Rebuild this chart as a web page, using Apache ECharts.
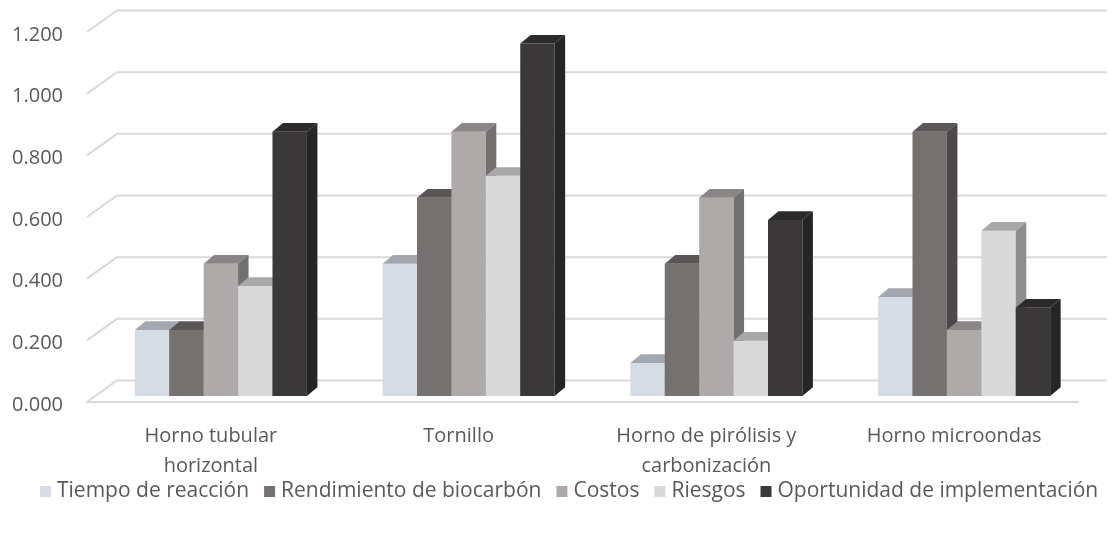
<!DOCTYPE html>
<html>
<head>
<meta charset="utf-8">
<script src="https://cdn.jsdelivr.net/npm/echarts@6/dist/echarts.min.js"></script>
<style>
  html, body { margin: 0; padding: 0; background: #ffffff; }
  #chart { width: 1109px; height: 533px; }
</style>
</head>
<body>
<div id="chart"></div>
<script>
// Categories (x axis)
const categories = [
  'Horno tubular\nhorizontal',
  'Tornillo',
  'Horno de pirólisis y\ncarbonización',
  'Horno microondas'
];

// Series names
const seriesNames = [
  'Tiempo de reacción',
  'Rendimiento de biocarbón',
  'Costos',
  'Riesgos',
  'Oportunidad de implementación'
];

// Values per series, one per category
const tiempoReaccion = [0.214, 0.429, 0.107, 0.321];
const rendimientoBiocarbon = [0.214, 0.643, 0.429, 0.857];
const costos = [0.429, 0.857, 0.643, 0.214];
const riesgos = [0.357, 0.714, 0.179, 0.536];
const oportunidad = [0.857, 1.143, 0.571, 0.286];

// Value axis ticks
const yTicks = [0, 0.2, 0.4, 0.6, 0.8, 1.0, 1.2];

const seriesValues = [tiempoReaccion, rendimientoBiocarbon, costos, riesgos, oportunidad];

// Face colours: front, top, side
const palette = [
  { front: '#D6DCE4', top: '#A3A8B0', side: '#9AA0A8' },
  { front: '#767171', top: '#5A5656', side: '#4D4949' },
  { front: '#AEAAAA', top: '#8A8686', side: '#737070' },
  { front: '#D9D9D9', top: '#A8A8A8', side: '#8E8E8E' },
  { front: '#3A3838', top: '#2C2A2A', side: '#262525' }
];

// Oblique projection parameters for the pseudo-3D look
const WALL_DX = 30, WALL_DY = -21.5;   // depth of the floor / back wall
const BAR_OX = 10, BAR_OY = -6;        // bar front face offset from front plane
const BAR_DX = 10.5, BAR_DY = -8.7;    // bar depth
const BAR_FRACTION = 0.1389;           // single bar width relative to category band

const FONT = '"Open Sans", "Noto Sans", sans-serif';
const TEXT_COLOR = '#595959';
const GRID_COLOR = '#D9D9D9';

// Side-wall diagonal + back-wall gridline, with the tick label at the front edge
function gridLineRender(params, api) {
  const cs = params.coordSys;
  const v = api.value(1);
  const y = api.coord([0, v])[1];
  const x0 = cs.x;
  const x1 = cs.x + cs.width;
  return {
    type: 'group',
    children: [
      {
        type: 'polyline',
        shape: {
          points: [
            [x0, y],
            [x0 + WALL_DX, y + WALL_DY],
            [x1 + WALL_DX - 1, y + WALL_DY]
          ]
        },
        style: { stroke: GRID_COLOR, lineWidth: 2, fill: null },
        silent: true
      },
      {
        type: 'text',
        x: x0 - 24,
        y: y + 3,
        style: {
          text: v.toFixed(3),
          fill: TEXT_COLOR,
          font: '20px ' + FONT,
          align: 'right',
          verticalAlign: 'middle'
        },
        silent: true
      }
    ]
  };
}

function makeBarRender(k) {
  const col = palette[k];
  return function (params, api) {
    const cat = api.value(0);
    const top = api.coord([cat, api.value(1)]);
    const bottom = api.coord([cat, 0]);
    const band = api.size([1, 0])[0];
    const w = band * BAR_FRACTION;
    const x0 = top[0] - 2.5 * w + k * w + BAR_OX;
    const x1 = x0 + w;
    const yt = top[1] + BAR_OY;
    const yb = bottom[1] + BAR_OY;
    return {
      type: 'group',
      children: [
        {
          type: 'polygon',
          shape: { points: [[x0, yb], [x1, yb], [x1, yt], [x0, yt]] },
          style: { fill: col.front }
        },
        {
          type: 'polygon',
          shape: { points: [[x0, yt], [x1, yt], [x1 + BAR_DX, yt + BAR_DY], [x0 + BAR_DX, yt + BAR_DY]] },
          style: { fill: col.top }
        },
        {
          type: 'polygon',
          shape: { points: [[x1, yb], [x1 + BAR_DX, yb + BAR_DY], [x1 + BAR_DX, yt + BAR_DY], [x1, yt]] },
          style: { fill: col.side }
        }
      ]
    };
  };
}

const series = [
  {
    type: 'custom',
    name: '__grid',
    renderItem: gridLineRender,
    data: yTicks.map(v => [0, v]),
    encode: { x: 0, y: 1 },
    clip: false,
    silent: true,
    z: 1
  }
];

seriesNames.forEach((name, k) => {
  series.push({
    type: 'custom',
    name: name,
    renderItem: makeBarRender(k),
    data: seriesValues[k].map((v, i) => [i, v]),
    encode: { x: 0, y: 1 },
    itemStyle: { color: palette[k].front },
    clip: false,
    z: 2
  });
});

const chart = echarts.init(document.getElementById('chart'), null, { renderer: 'canvas' });

chart.setOption({
  animation: false,
  backgroundColor: '#ffffff',
  textStyle: { fontFamily: FONT },
  grid: { left: 87, right: 31, top: 32, bottom: 131, containLabel: false },
  xAxis: {
    type: 'category',
    data: categories,
    axisLine: { show: true, lineStyle: { color: GRID_COLOR, width: 2 } },
    axisTick: { show: false },
    axisLabel: {
      interval: 0,
      color: TEXT_COLOR,
      fontSize: 20,
      lineHeight: 30,
      margin: 19,
      fontFamily: FONT
    },
    splitLine: { show: false }
  },
  yAxis: {
    type: 'value',
    min: 0,
    max: 1.2,
    interval: 0.2,
    axisLine: { show: false },
    axisTick: { show: false },
    splitLine: { show: false },
    axisLabel: { show: false }
  },
  legend: {
    data: seriesNames,
    left: 35,
    top: 476,
    icon: 'rect',
    itemWidth: 11,
    itemHeight: 11,
    itemGap: 15,
    textStyle: { color: TEXT_COLOR, fontSize: 21, fontFamily: FONT, padding: [0, 0, 0, 1] }
  },
  series: series
});
</script>
</body>
</html>
